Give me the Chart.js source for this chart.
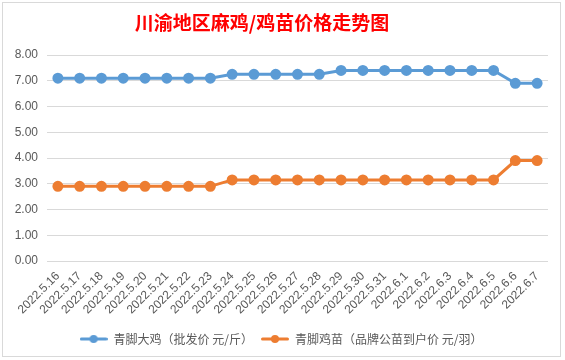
<!DOCTYPE html>
<html><head><meta charset="utf-8">
<script src="https://cdn.jsdelivr.net/npm/chart.js@4/dist/chart.umd.min.js"></script>
<style>
html,body{margin:0;padding:0;background:#fff;}
#wrap{position:absolute;left:0;top:0;width:565px;height:360px;}
#frame{position:absolute;left:2px;top:2px;width:559px;height:355px;border:1px solid #d9d9d9;box-sizing:border-box;}
canvas{position:absolute;left:0;top:0;}
</style></head>
<body>
<div id="wrap"><div id="frame"></div><canvas id="c" width="565" height="360"></canvas></div>
<script>
const titleText = '川渝地区麻鸡/鸡苗价格走势图';
const categories = ['2022.5.16','2022.5.17','2022.5.18','2022.5.19','2022.5.20','2022.5.21','2022.5.22','2022.5.23','2022.5.24','2022.5.25','2022.5.26','2022.5.27','2022.5.28','2022.5.29','2022.5.30','2022.5.31','2022.6.1','2022.6.2','2022.6.3','2022.6.4','2022.6.5','2022.6.6','2022.6.7'];
const seriesNames = ['青脚大鸡（批发价 元/斤）','青脚鸡苗（品牌公苗到户价 元/羽）'];
const bigChicken = [7.1,7.1,7.1,7.1,7.1,7.1,7.1,7.1,7.25,7.25,7.25,7.25,7.25,7.4,7.4,7.4,7.4,7.4,7.4,7.4,7.4,6.9,6.9];
const chickSeedling = [2.9,2.9,2.9,2.9,2.9,2.9,2.9,2.9,3.15,3.15,3.15,3.15,3.15,3.15,3.15,3.15,3.15,3.15,3.15,3.15,3.15,3.9,3.9];
const yTicks = [0,1,2,3,4,5,6,7,8];

const colors = ['#5B9BD5','#ED7D31'];
function markerImg(color){
  const c=document.createElement('canvas'); c.width=28; c.height=10;
  const x=c.getContext('2d');
  x.strokeStyle=color; x.lineWidth=3; x.lineCap='round';
  x.beginPath(); x.moveTo(1.5,5); x.lineTo(26.5,5); x.stroke();
  x.fillStyle=color; x.beginPath(); x.arc(14,5,4,0,Math.PI*2); x.fill();
  return c;
}
const markers = colors.map(markerImg);
const font = '"Noto Sans CJK SC", "Liberation Sans", sans-serif';

const titlePlugin = {
  id:'offsetTitle',
  afterDraw(chart){
    const ctx=chart.ctx; ctx.save();
    ctx.font='bold 19px "Noto Sans CJK SC", sans-serif';
    ctx.fillStyle='#FF0000'; ctx.textAlign='center'; ctx.textBaseline='middle';
    ctx.fillText(titleText, 262, 23);
    ctx.restore();
  }
};

new Chart(document.getElementById('c'), {
  type:'line',
  data:{
    labels:categories,
    datasets:[
      {label:seriesNames[0],data:bigChicken,borderColor:colors[0],backgroundColor:colors[0],borderWidth:3,pointRadius:4,pointHoverRadius:4,tension:0},
      {label:seriesNames[1],data:chickSeedling,borderColor:colors[1],backgroundColor:colors[1],borderWidth:3,pointRadius:4,pointHoverRadius:4,tension:0}
    ]
  },
  plugins:[titlePlugin],
  options:{
    responsive:false,animation:false,
    layout:{padding:{left:14,right:17,top:55,bottom:5}},
    plugins:{
      title:{display:false,text:titleText},
      legend:{position:'bottom',labels:{usePointStyle:true,pointStyleWidth:28,boxHeight:10,padding:8,color:'#595959',font:{family:font,size:12},
        generateLabels(chart){
          return chart.data.datasets.map((d,i)=>({text:d.label,fillStyle:colors[i],strokeStyle:colors[i],lineWidth:0,pointStyle:markers[i],datasetIndex:i,hidden:false,fontColor:'#595959'}));
        }}},
      tooltip:{enabled:false}
    },
    scales:{
      x:{offset:true,grid:{display:false,drawTicks:false},border:{display:false},
        afterFit(s){s.paddingLeft=0;s.paddingRight=0;s.paddingTop=0;},
        ticks:{color:'#595959',font:{family:'"Liberation Sans", sans-serif',size:12},minRotation:45,maxRotation:45,autoSkip:false,padding:8}},
      y:{min:0,max:8,afterBuildTicks(s){s.ticks=yTicks.map(v=>({value:v}));},
        afterFit(s){s.width=33;s.paddingTop=0;s.paddingBottom=0;},
        grid:{color:'#d9d9d9',lineWidth:1,drawTicks:false},border:{display:false},
        ticks:{color:'#595959',font:{family:'"Liberation Sans", sans-serif',size:12},padding:9,callback:v=>Number(v).toFixed(2)}}
    }
  }
});
</script>
</body></html>
